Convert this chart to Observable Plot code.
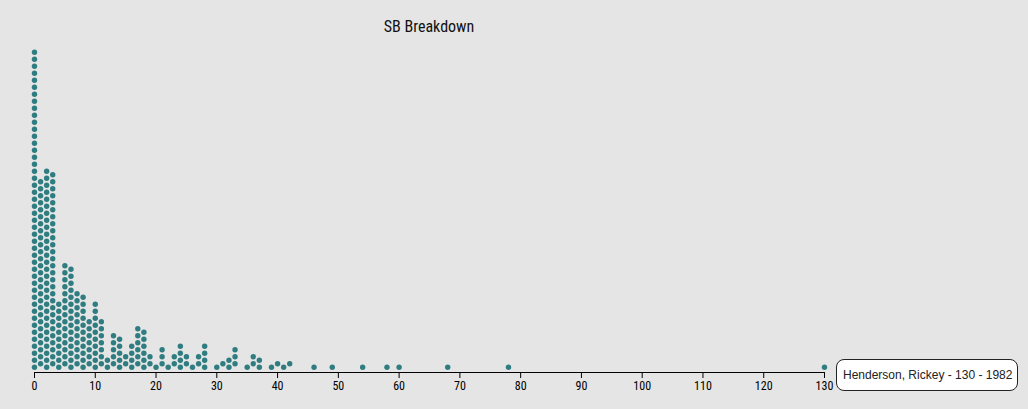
<!DOCTYPE html>
<html>
<head>
<meta charset="utf-8">
<script src="https://cdn.jsdelivr.net/npm/d3@7"></script>
<script src="https://cdn.jsdelivr.net/npm/@observablehq/plot@0.6"></script>
<style>
  html, body { margin: 0; padding: 0; background: #e5e5e5; }
  #wrap { position: relative; width: 1028px; height: 409px; background: #e5e5e5; overflow: hidden; }
  #title { position: absolute; left: 34px; width: 790px; top: 17px; text-align: center;
           font-family: "Roboto Condensed", "Liberation Sans Narrow", "DejaVu Sans Condensed", Roboto, sans-serif;
           font-stretch: condensed; font-size: 16px; color: #111; }
  #chart { position: absolute; left: 0; top: 40px; }
  #tip { position: absolute; left: 836px; top: 359px; width: 180px; height: 30px; box-sizing: content-box;
         background: #fff; border: 1px solid #222; border-radius: 8px;
         font-family: "Liberation Sans", Arial, sans-serif; font-size: 12px; line-height: 30px;
         text-indent: 6px; color: #222; }
</style>
</head>
<body>
<div id="wrap">
  <div id="title">SB Breakdown</div>
  <div id="chart"></div>
  <div id="tip">Henderson, Rickey - 130 - 1982</div>
</div>
<script>
// Stolen-base totals and how many player-seasons had each total
const sbValues = [0, 1, 2, 3, 4, 5, 6, 7, 8, 9, 10, 11, 12, 13, 14, 15, 16, 17, 18, 19, 20, 21, 22, 23, 24, 25, 26, 27, 28,
                  30, 31, 32, 33, 35, 36, 37, 39, 40, 41, 42, 46, 49, 54, 58, 60, 68, 78, 130];
const sbCounts = [46, 27, 29, 28, 10, 15, 15, 11, 11, 7, 10, 7, 2, 5, 5, 2, 4, 6, 6, 2, 1, 3, 1, 2, 4, 2, 1, 2, 4,
                  1, 1, 2, 3, 1, 2, 2, 1, 1, 1, 1, 1, 1, 1, 1, 1, 1, 1, 1];
const xTicks = [0, 10, 20, 30, 40, 50, 60, 70, 80, 90, 100, 110, 120, 130];
const dotColor = "#2f7d80";

const data = [];
sbValues.forEach((v, i) => { for (let k = 0; k < sbCounts[i]; k++) data.push({sb: v}); });

const chart = Plot.plot({
  width: 1028,
  height: 369,
  marginLeft: 34,
  marginRight: 204,
  marginTop: 0,
  marginBottom: 37,
  style: {background: "transparent", fontSize: "12px",
          fontFamily: "'Roboto Condensed', 'Liberation Sans Narrow', 'DejaVu Sans Condensed', Roboto, sans-serif",
          color: "#000", overflow: "visible"},
  x: {domain: [0, 130], ticks: xTicks, label: null},
  marks: [
    Plot.dot(data, Plot.dodgeY({anchor: "bottom", x: "sb", r: 2.7, padding: 1.6, fill: dotColor, dy: -1})),
    Plot.frame({anchor: "bottom", stroke: "#000"}),
    Plot.axisX({ticks: xTicks, tickSize: 6, tickPadding: 3, stroke: "#000", fill: "#000", label: null})
  ]
});
document.getElementById("chart").appendChild(chart);
</script>
</body>
</html>
